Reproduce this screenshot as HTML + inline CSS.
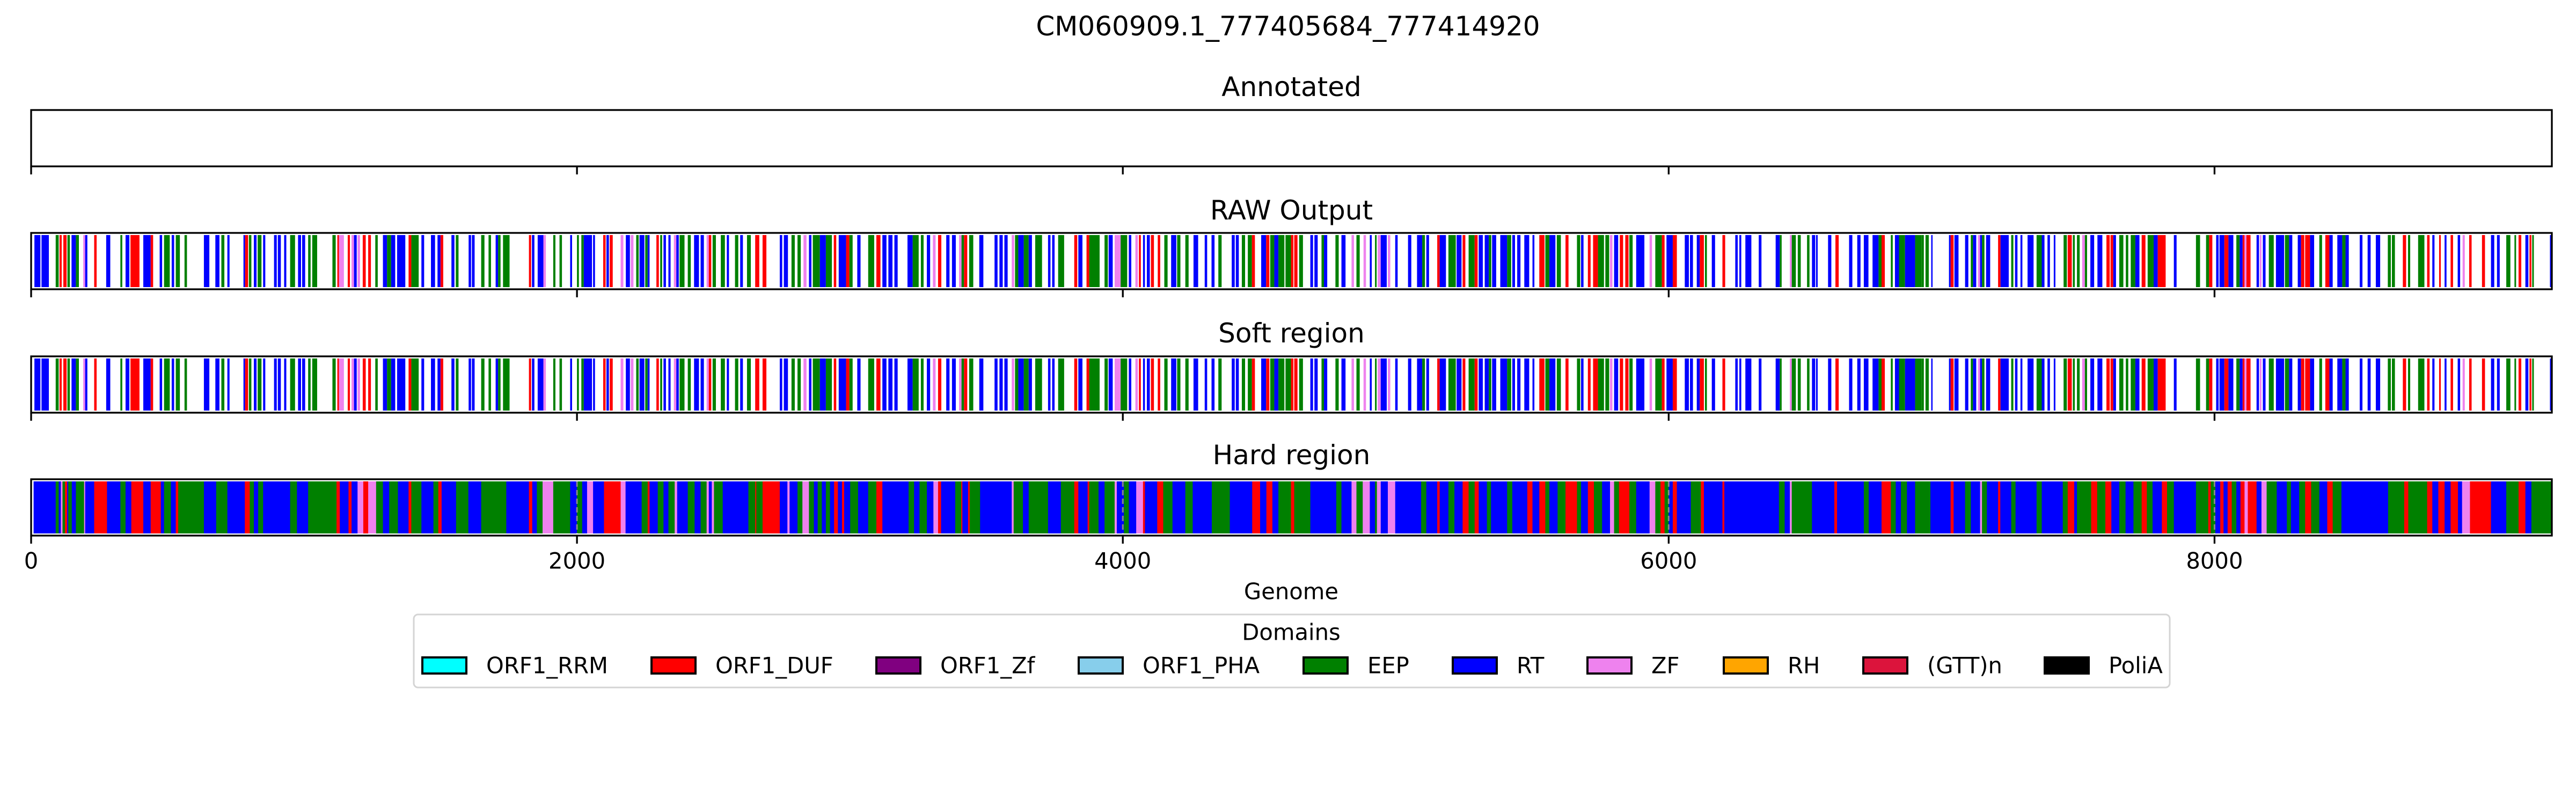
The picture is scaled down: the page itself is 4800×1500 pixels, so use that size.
<!DOCTYPE html>
<html><head><meta charset="utf-8">
<style>
html,body{margin:0;padding:0;background:#fff;}
svg{display:block;font-family:"DejaVu Sans","Liberation Sans",sans-serif;}
</style></head>
<body>
<svg id="fig" width="4800" height="1500" viewBox="0 0 4800 1500" xmlns="http://www.w3.org/2000/svg">
<rect x="0" y="0" width="4800" height="1500" fill="#fff"/>
<text x="2400" y="49" font-size="50" text-anchor="middle" dominant-baseline="central">CM060909.1_777405684_777414920</text>
<g id="panels"></g>
<text x="2406" y="1102" font-size="41.7" text-anchor="middle" dominant-baseline="central">Genome</text>
<g>
<rect x="771" y="1145" width="3272" height="136" rx="8" fill="#fff" stroke="#d4d4d4" stroke-width="3"/>
<text x="2406" y="1178" font-size="41.7" text-anchor="middle" dominant-baseline="central">Domains</text>
<g id="legend-entries"></g>
</g>
</svg>
<script>
// ---- data ----
const genomeLength = 9236;
const xTicks = [0, 2000, 4000, 6000, 8000];
const domainNames = ["ORF1_RRM","ORF1_DUF","ORF1_Zf","ORF1_PHA","EEP","RT","ZF","RH","(GTT)n","PoliA"];
const domainColors = ["#00ffff","#ff0000","#800080","#87ceeb","#008000","#0000ff","#ee82ee","#ffa500","#dc143c","#000000"];
const typeCode = {R:"ORF1_DUF",G:"EEP",B:"RT",V:"ZF"};
const panelTitles = ["Annotated","RAW Output","Soft region","Hard region"];

// Hard region: contiguous segments; each ends where the next begins
const hardStart = [
9,90,101,109,115,124,132,136,149,164,
194,198,231,278,327,346,367,411,438,475,
487,512,530,539,633,678,719,783,801,816,
832,850,949,974,1015,1119,1131,1163,1174,1196,
1217,1235,1264,1289,1312,1344,1383,1393,1430,1474,
1492,1504,1557,1602,1649,1741,1824,1836,1853,1874,
1913,1975,2000,2019,2037,2059,2099,2160,2178,2237,
2259,2266,2296,2317,2335,2358,2367,2406,2431,2453,
2475,2483,2494,2502,2534,2628,2653,2657,2680,2743,
2771,2779,2808,2826,2850,2868,2882,2897,2912,2927,
2942,2956,2971,2979,3001,3030,3067,3097,3119,3215,
3235,3255,3282,3306,3323,3334,3386,3408,3412,3433,
3439,3477,3593,3600,3634,3655,3726,3773,3822,3837,
3871,3877,3911,3933,3970,3978,4004,4022,4049,4074,
4081,4126,4148,4182,4229,4256,4326,4392,4474,4503,
4526,4548,4570,4616,4628,4687,4782,4801,4838,4856,
4879,4905,4924,4931,4945,4971,4998,5093,5112,5152,
5161,5193,5215,5245,5267,5289,5304,5334,5349,5408,
5427,5482,5501,5526,5548,5563,5593,5622,5664,5679,
5704,5726,5756,5785,5800,5818,5856,5881,5930,5951,
5970,5985,6000,6015,6030,6081,6118,6129,6197,6204,
6404,6425,6444,6451,6525,6607,6617,6715,6733,6780,
6814,6832,6851,6873,6903,6959,7033,7044,7086,7107,
7141,7148,7166,7207,7215,7255,7271,7348,7367,7444,
7462,7486,7496,7548,7570,7600,7622,7651,7674,7703,
7733,7752,7773,7807,7826,7851,7932,7977,7986,8003,
8021,8033,8048,8063,8080,8095,8110,8122,8154,8172,
8191,8228,8265,8280,8310,8332,8354,8384,8413,8433,
8465,8636,8695,8710,8779,8798,8820,8843,8865,8892,
8907,8936,9013,9069,9114,9139,9161];
const hardType = [
"B","G","B","V","G","R","B","G","B","G",
"V","B","R","B","G","B","R","B","R","B",
"G","B","R","G","B","G","B","R","G","B",
"G","B","G","B","G","R","B","R","B","V",
"R","V","G","B","G","B","R","G","B","G",
"R","B","G","B","G","B","R","B","G","V",
"G","B","G","B","V","B","R","V","B","G",
"R","B","G","B","G","V","B","G","B","G",
"V","B","V","G","B","G","R","G","R","B",
"V","B","G","V","G","B","G","B","G","B",
"R","B","R","B","G","B","G","R","B","G",
"B","G","B","V","R","B","G","R","B","R",
"G","B","V","G","B","G","B","G","R","B",
"R","G","B","G","V","B","G","B","V","R",
"B","R","G","B","G","B","G","B","R","B",
"R","B","G","R","G","B","G","B","V","G",
"V","B","G","V","B","V","B","G","B","R",
"B","G","B","R","G","R","B","G","B","G",
"B","R","B","R","G","B","G","R","G","B",
"R","G","B","V","G","R","G","B","V","G",
"R","G","B","R","B","G","R","B","R","B",
"G","B","V","G","B","R","B","G","B","R",
"G","B","G","B","G","B","R","B","G","B",
"V","G","B","R","B","G","B","G","B","G",
"R","B","G","R","G","R","B","G","B","G",
"R","G","B","R","G","B","G","R","G","B",
"R","B","R","G","B","R","V","R","B","V",
"G","B","G","B","G","R","G","B","R","G",
"B","G","R","G","R","B","R","B","R","B",
"V","R","B","G","R","B","G"];

// Raw / Soft output: discrete calls
const rawStart = [
12,38,90,104,118,133,148,164,191,198,
231,275,327,346,364,411,438,471,487,515,
530,562,633,675,697,719,778,784,798,816,
830,850,890,904,927,949,978,993,1015,1030,
1104,1122,1128,1160,1174,1183,1196,1215,1235,1261,
1289,1304,1319,1341,1383,1393,1430,1465,1489,1500,
1540,1556,1603,1615,1649,1676,1702,1711,1729,1824,
1835,1856,1877,1913,1936,1975,2000,2016,2025,2059,
2096,2108,2120,2160,2179,2197,2217,2229,2250,2259,
2291,2305,2317,2335,2355,2364,2376,2406,2429,2453,
2475,2483,2497,2527,2549,2579,2598,2623,2653,2680,
2743,2758,2786,2808,2830,2850,2864,2890,2912,2941,
2959,2986,2998,3027,3067,3097,3119,3141,3163,3211,
3230,3260,3282,3304,3323,3353,3374,3400,3409,3418,
3437,3474,3530,3548,3566,3593,3605,3617,3637,3655,
3679,3726,3741,3763,3822,3837,3867,3877,3933,3948,
3970,3992,4022,4046,4059,4074,4088,4103,4128,4152,
4177,4199,4229,4259,4300,4325,4350,4399,4414,4436,
4458,4473,4507,4525,4540,4555,4570,4596,4616,4628,
4646,4687,4702,4728,4737,4779,4801,4838,4856,4882,
4905,4924,4934,4945,4971,4998,5045,5078,5097,5112,
5152,5161,5193,5223,5245,5267,5289,5304,5326,5341,
5353,5383,5408,5427,5445,5471,5501,5526,5548,5563,
5590,5622,5664,5679,5704,5723,5741,5768,5785,5800,
5821,5841,5856,5881,5930,5951,5963,5975,5992,6015,
6059,6078,6103,6114,6133,6158,6197,6244,6259,6281,
6330,6392,6407,6444,6451,6473,6507,6525,6540,6584,
6611,6661,6691,6715,6747,6769,6780,6814,6829,6844,
6866,6903,6926,6941,6962,7027,7033,7047,7086,7107,
7115,7133,7141,7148,7163,7207,7216,7255,7269,7289,
7315,7348,7367,7388,7411,7447,7462,7481,7496,7515,
7525,7545,7571,7604,7619,7629,7651,7675,7693,7710,
7733,7755,7777,7792,7851,7932,7969,7980,8006,8018,
8036,8051,8080,8092,8103,8110,8117,8154,8166,8177,
8199,8225,8258,8273,8305,8317,8332,8350,8384,8406,
8421,8450,8468,8480,8532,8561,8591,8635,8650,8690,
8709,8746,8779,8798,8823,8843,8865,8891,8909,8933,
8980,9013,9035,9069,9099,9114,9139,9154,9164,9229];
const rawEnd = [
34,65,101,112,130,142,164,175,198,206,
240,290,334,360,397,438,447,480,508,524,
545,571,653,690,708,727,784,795,807,826,
844,858,900,915,935,967,989,1004,1024,1048,
1116,1128,1146,1168,1183,1193,1205,1226,1245,1270,
1304,1319,1334,1371,1393,1420,1440,1480,1500,1510,
1551,1566,1612,1625,1661,1685,1711,1720,1753,1832,
1844,1877,1886,1921,1945,1982,2007,2025,2055,2066,
2105,2117,2131,2170,2194,2207,2226,2247,2259,2266,
2300,2312,2326,2343,2364,2373,2394,2417,2447,2465,
2483,2492,2509,2542,2557,2591,2608,2637,2668,2694,
2752,2773,2798,2820,2841,2859,2890,2912,2934,2950,
2986,2998,3010,3039,3089,3112,3134,3156,3175,3230,
3252,3270,3294,3314,3335,3365,3388,3409,3418,3430,
3452,3489,3541,3560,3578,3602,3617,3637,3655,3667,
3704,3735,3750,3785,3833,3852,3877,3915,3945,3963,
3992,4016,4031,4055,4066,4081,4099,4114,4137,4164,
4196,4211,4241,4276,4309,4336,4362,4410,4425,4448,
4473,4484,4525,4537,4555,4570,4592,4616,4625,4640,
4660,4697,4714,4737,4749,4791,4816,4847,4868,4891,
4912,4930,4945,4967,4980,5007,5057,5097,5107,5122,
5161,5184,5220,5241,5255,5289,5300,5319,5341,5350,
5368,5408,5423,5437,5457,5489,5508,5545,5563,5585,
5605,5633,5676,5688,5714,5741,5763,5782,5794,5815,
5833,5853,5868,5911,5939,5963,5975,5985,6015,6030,
6074,6089,6114,6129,6140,6170,6207,6253,6266,6303,
6340,6407,6414,6451,6466,6484,6516,6537,6546,6596,
6623,6673,6703,6732,6769,6780,6792,6821,6844,6866,
6903,6926,6935,6953,6967,7033,7044,7062,7098,7115,
7127,7141,7148,7157,7178,7216,7246,7263,7278,7296,
7337,7367,7377,7397,7417,7459,7477,7488,7506,7525,
7533,7559,7589,7616,7629,7639,7666,7684,7710,7725,
7747,7777,7792,7821,7861,7947,7980,7992,8015,8036,
8051,8069,8092,8103,8110,8117,8132,8163,8172,8187,
8217,8255,8273,8285,8317,8329,8350,8365,8394,8421,
8433,8468,8480,8492,8542,8572,8607,8646,8661,8702,
8717,8769,8788,8806,8829,8850,8874,8900,8917,8942,
8991,9025,9045,9084,9105,9124,9150,9161,9170,9235];
const rawType = [
"B","B","G","R","R","G","B","G","V","B",
"R","B","G","B","R","B","R","B","G","B",
"G","G","B","B","G","B","B","R","G","B",
"G","B","B","B","B","G","B","B","G","G",
"G","R","V","R","V","B","V","R","R","G",
"B","G","B","B","R","G","B","B","B","R",
"B","G","B","B","G","G","B","G","G","R",
"B","B","V","G","G","B","G","G","B","B",
"R","B","R","V","B","V","G","B","G","B",
"R","G","B","B","V","B","G","G","B","B",
"V","R","G","G","B","G","B","G","R","R",
"B","B","G","G","V","B","G","B","G","R",
"B","R","G","B","G","R","B","B","B","B",
"G","G","B","V","R","B","B","V","G","R",
"G","B","B","B","B","V","G","B","G","B",
"G","B","B","G","R","B","R","G","G","B",
"V","G","B","V","R","B","B","R","R","G",
"B","G","G","B","B","B","G","B","B","G",
"G","R","B","R","G","B","G","G","R","R",
"G","B","B","G","B","G","B","V","G","V",
"B","G","V","B","V","B","B","B","G","B",
"R","B","G","B","R","G","R","B","B","G",
"B","B","G","B","B","B","B","R","G","B",
"G","R","G","B","R","R","G","G","V","B",
"R","R","G","B","V","G","G","R","B","R",
"B","B","B","R","G","B","R","B","B","B",
"B","B","G","V","G","G","G","B","B","B",
"R","B","B","B","B","G","R","G","B","G",
"B","G","G","G","B","B","R","B","B","G",
"B","V","B","G","B","R","B","G","B","B",
"B","G","B","B","B","G","R","G","G","V",
"G","B","B","R","R","B","G","G","G","B",
"R","G","B","R","B","G","G","R","B","B",
"R","B","G","B","R","V","R","B","V","B",
"G","B","G","B","B","R","R","B","G","R",
"B","B","G","B","B","B","B","G","G","R",
"G","G","R","B","R","B","R","B","V","R",
"R","B","B","G","G","R","B","R","G","B"];

// ---- scales / layout ----
const X0 = 58, X1 = 4755;
function xs(v){ return X0 + v*(X1-X0)/genomeLength; }
const panelTop = [205, 434, 664, 893];
const panelH = 105;
const titleY = [162, 392, 621, 848];
const NS = "http://www.w3.org/2000/svg";
function colorOf(code){ const i = domainNames.indexOf(typeCode[code]); return i>=0 ? domainColors[i] : "#0000ff"; }
function mk(tag, attrs){ const e=document.createElementNS(NS,tag); for(const k in attrs) e.setAttribute(k, attrs[k]); return e; }
if (rawStart.length !== rawEnd.length || rawStart.length !== rawType.length || hardStart.length !== hardType.length) {
  console.warn('data length mismatch', rawStart.length, rawEnd.length, rawType.length, hardStart.length, hardType.length);
}

const panels = document.getElementById('panels');
panelTitles.forEach((t,i)=>{
  const g = mk('g',{});
  
  
  panels.appendChild(g);
  const tt = mk('text',{x:(X0+X1)/2, y:titleY[i], 'font-size':50, 'text-anchor':'middle','dominant-baseline':'central'});
  tt.textContent = t;
  
  
  g.appendChild(tt);
  const top = panelTop[i], y0 = top+4, h = panelH-8;
  if (i===1 || i===2){
    const n = Math.min(rawStart.length, rawEnd.length, rawType.length);
    for(let k=0;k<n;k++){
      const r = mk('rect',{x:xs(rawStart[k]), y:y0, width:Math.max(1.5, xs(rawEnd[k])-xs(rawStart[k])), height:h, fill:colorOf(rawType[k])});
      
      
      g.appendChild(r);
    }
  }
  if (i===3){
    for(let k=0;k<hardStart.length;k++){
      const e = k+1<hardStart.length ? hardStart[k+1] : genomeLength;
      const r = mk('rect',{x:xs(hardStart[k]), y:y0, width:xs(e)-xs(hardStart[k])+0.5, height:h, fill:colorOf(hardType[k])});
      
      
      g.appendChild(r);
    }
    xTicks.slice(1).forEach(v=>{
      const l = mk('line',{x1:xs(v),x2:xs(v),y1:y0,y2:y0+h,stroke:'#888','stroke-width':3,'stroke-dasharray':'10 6'});
      
      
      g.appendChild(l);
    });
  }
  const fr = mk('rect',{x:X0, y:top, width:X1-X0, height:panelH, fill:'none', stroke:'#000','stroke-width':3.3});
  
  
  g.appendChild(fr);
  xTicks.forEach(v=>{
    const tk = mk('line',{x1:xs(v),x2:xs(v),y1:top+panelH,y2:top+panelH+15,stroke:'#000','stroke-width':3.3});
    
    
    g.appendChild(tk);
    if (i===3){
      const tl = mk('text',{x:xs(v), y:1045, 'font-size':41.7, 'text-anchor':'middle','dominant-baseline':'central'});
      tl.textContent = String(v);
      
      
      g.appendChild(tl);
    }
  });
});

// legend
const legendPatchX = [787,1214,1633,2010,2429,2707,2958,3212,3472,3810];
const le = document.getElementById('legend-entries');
domainNames.forEach((n,i)=>{
  const g = mk('g',{});
  
  
  const p = mk('rect',{x:legendPatchX[i], y:1225, width:82, height:30, fill:domainColors[i], stroke:'#000','stroke-width':4});
  
  
  g.appendChild(p);
  const t = mk('text',{x:legendPatchX[i]+119, y:1240, 'font-size':41.7, 'dominant-baseline':'central'});
  t.textContent = n;
  
  
  g.appendChild(t);
  le.appendChild(g);
});
</script>
</body></html>
